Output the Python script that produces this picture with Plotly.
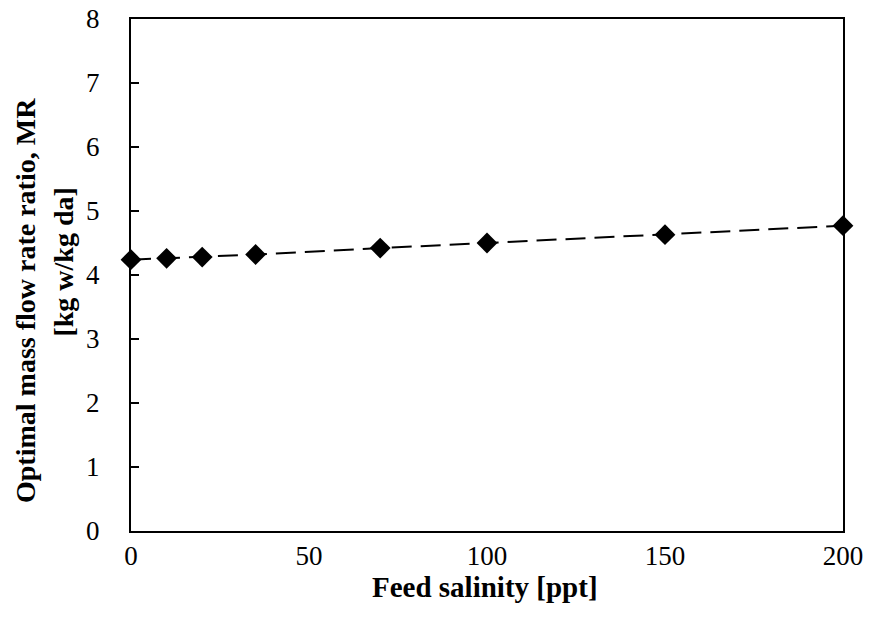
import plotly.graph_objects as go

# Feed salinity [ppt] and optimal mass flow rate ratio
salinity = [0, 10, 20, 35, 70, 100, 150, 200]
mass_ratio = [4.24, 4.26, 4.28, 4.32, 4.42, 4.50, 4.63, 4.77]

x_ticks = [0, 50, 100, 150, 200]
y_ticks = [0, 1, 2, 3, 4, 5, 6, 7, 8]

X_TITLE = "Feed salinity [ppt]"
Y_TITLE_LINES = ["Optimal mass flow rate ratio, MR", "[kg w/kg da]"]

FONT = "Liberation Serif, Times New Roman, serif"

fig = go.Figure(
    go.Scatter(
        x=salinity,
        y=mass_ratio,
        mode="lines+markers",
        line=dict(color="black", width=2, dash="20px,9px"),
        marker=dict(symbol="diamond", size=16, color="black"),
        cliponaxis=False,
        showlegend=False,
    )
)

# axis titles as annotations so each line sits where the original has it
fig.add_annotation(
    text=f"<b>{X_TITLE}</b>",
    xref="paper", yref="paper", x=0.497, y=-0.11,
    xanchor="center", yanchor="middle", showarrow=False,
    font=dict(family=FONT, size=29, color="black"),
)
fig.add_annotation(
    text=f"<b>{Y_TITLE_LINES[0]}</b>",
    xref="paper", yref="paper", x=-0.149, y=0.451,
    xanchor="center", yanchor="middle", textangle=-90, showarrow=False,
    font=dict(family=FONT, size=28, color="black"),
)
fig.add_annotation(
    text=f"<b>{Y_TITLE_LINES[1]}</b>",
    xref="paper", yref="paper", x=-0.095, y=0.525,
    xanchor="center", yanchor="middle", textangle=-90, showarrow=False,
    font=dict(family=FONT, size=28, color="black"),
)

# the page body has an 8px margin, so the figure is sized to fit inside it
fig.update_layout(
    width=863,
    height=621,
    paper_bgcolor="white",
    plot_bgcolor="white",
    font=dict(family=FONT, size=27, color="black"),
    margin=dict(l=123, r=28, t=11, b=98),
    xaxis=dict(
        range=[0, 200],
        tickvals=x_ticks,
        ticks="",
        showgrid=False,
        zeroline=False,
        showline=True,
        linecolor="black",
        linewidth=2,
        mirror=True,
        automargin=False,
        ticklabeloverflow="allow",
        ticklabelstandoff=0,
    ),
    yaxis=dict(
        range=[0, 8],
        tickvals=y_ticks,
        ticks="inside",
        ticklen=8,
        tickwidth=2,
        tickcolor="black",
        showgrid=False,
        zeroline=False,
        showline=True,
        linecolor="black",
        linewidth=2,
        mirror=True,
        automargin=False,
        ticklabeloverflow="allow",
        ticklabelstandoff=24,
    ),
)

fig.write_html("out.html")
